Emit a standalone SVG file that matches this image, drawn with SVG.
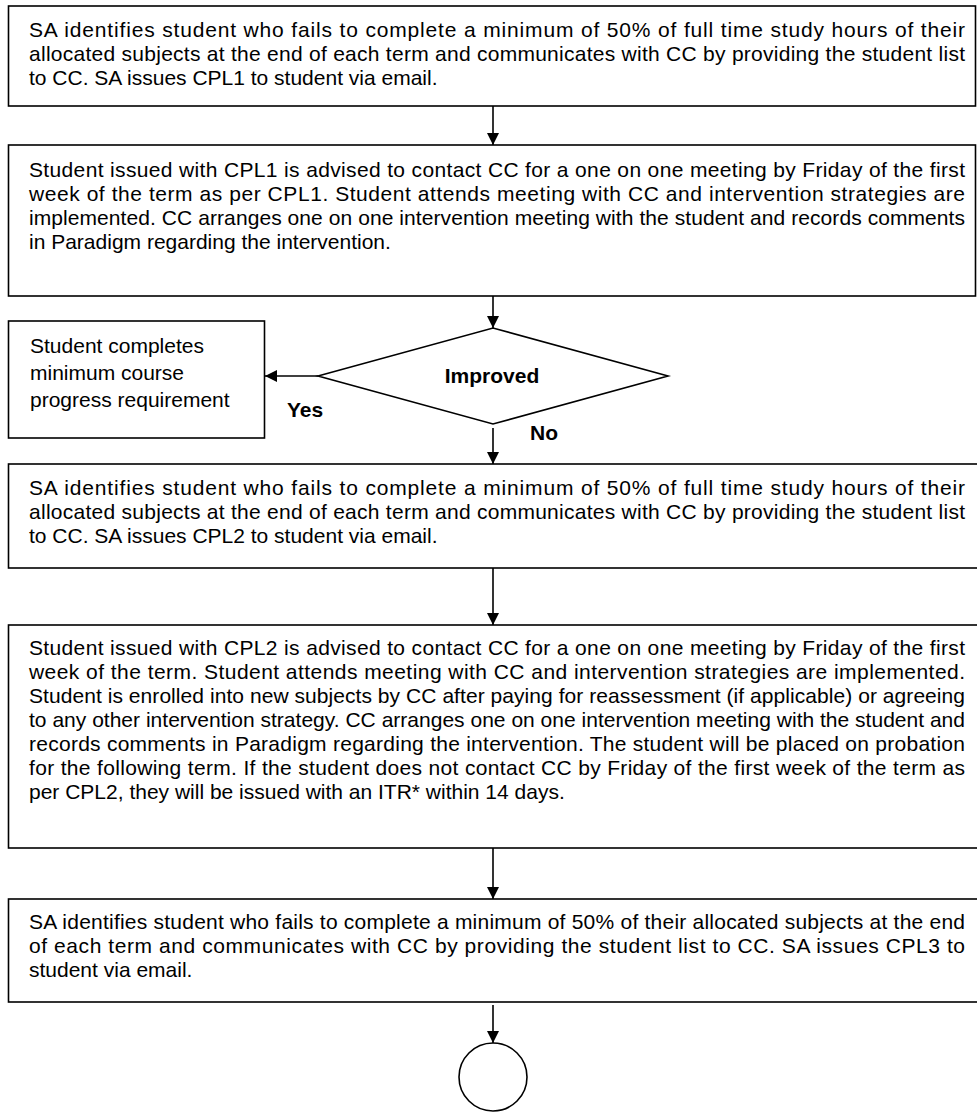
<svg xmlns="http://www.w3.org/2000/svg" width="977" height="1113" viewBox="0 0 977 1113">
<style>
.box{fill:#fff;stroke:#000;stroke-width:1.6}
.t{font-family:"Liberation Sans",Arial,sans-serif;font-size:21px;fill:#000}
.b{font-weight:bold}
.c{stroke:#000;stroke-width:1.6;fill:none}
.arr{marker-end:url(#ah)}
</style>
<defs>
<marker id="ah" markerUnits="userSpaceOnUse" markerWidth="12" markerHeight="12" viewBox="0 0 12 12" refX="12" refY="6" orient="auto">
<path d="M0,0 L12,6 L0,12 z" fill="#000"/>
</marker>
</defs>
<rect width="977" height="1113" fill="#fff"/>
<g id="connectors">
<line class="c arr" x1="493" y1="106" x2="493" y2="145"/>
<line class="c arr" x1="493" y1="296" x2="493" y2="328"/>
<line class="c arr" x1="318" y1="376" x2="265" y2="376"/>
<line class="c arr" x1="493" y1="428" x2="493" y2="464"/>
<line class="c arr" x1="493" y1="568" x2="493" y2="625"/>
<line class="c arr" x1="493" y1="848" x2="493" y2="899"/>
<line class="c arr" x1="493" y1="1005" x2="493" y2="1043"/>
</g>
<g id="n1">
<rect class="box" x="8.5" y="6" width="967" height="100"/>
<text class="t" x="29" y="37" textLength="936" lengthAdjust="spacing">SA identifies student who fails to complete a minimum of 50% of full time study hours of their</text>
<text class="t" x="29" y="61" textLength="936" lengthAdjust="spacing">allocated subjects at the end of each term and communicates with CC by providing the student list</text>
<text class="t" x="29" y="85">to CC. SA issues CPL1 to student via email.</text>
</g>
<g id="n2">
<rect class="box" x="8.5" y="145" width="967" height="151"/>
<text class="t" x="29" y="177" textLength="936" lengthAdjust="spacing">Student issued with CPL1 is advised to contact CC for a one on one meeting by Friday of the first</text>
<text class="t" x="29" y="201" textLength="936" lengthAdjust="spacing">week of the term as per CPL1. Student attends meeting with CC and intervention strategies are</text>
<text class="t" x="29" y="225" textLength="936" lengthAdjust="spacing">implemented. CC arranges one on one intervention meeting with the student and records comments</text>
<text class="t" x="29" y="249">in Paradigm regarding the intervention.</text>
</g>
<g id="decision">
<polygon class="box" points="318,376 493,328 668,376 493,424"/>
<text class="t b" x="492" y="383" text-anchor="middle">Improved</text>
</g>
<g id="yes-box">
<rect class="box" x="8.5" y="321" width="256" height="117"/>
<text class="t" x="30" y="353">Student completes</text>
<text class="t" x="30" y="380">minimum course</text>
<text class="t" x="30" y="407">progress requirement</text>
</g>
<g id="labels">
<text class="t b" x="287" y="417">Yes</text>
<text class="t b" x="530" y="440">No</text>
</g>
<g id="n3">
<rect class="box" x="8.5" y="464" width="972" height="104"/>
<text class="t" x="29" y="495" textLength="936" lengthAdjust="spacing">SA identifies student who fails to complete a minimum of 50% of full time study hours of their</text>
<text class="t" x="29" y="519" textLength="936" lengthAdjust="spacing">allocated subjects at the end of each term and communicates with CC by providing the student list</text>
<text class="t" x="29" y="543">to CC. SA issues CPL2 to student via email.</text>
</g>
<g id="n4">
<rect class="box" x="8.5" y="625" width="972" height="223"/>
<text class="t" x="29" y="655" textLength="936" lengthAdjust="spacing">Student issued with CPL2 is advised to contact CC for a one on one meeting by Friday of the first</text>
<text class="t" x="29" y="679" textLength="936" lengthAdjust="spacing">week of the term. Student attends meeting with CC and intervention strategies are implemented.</text>
<text class="t" x="29" y="703" textLength="936" lengthAdjust="spacing">Student is enrolled into new subjects by CC after paying for reassessment (if applicable) or agreeing</text>
<text class="t" x="29" y="727" textLength="936" lengthAdjust="spacing">to any other intervention strategy. CC arranges one on one intervention meeting with the student and</text>
<text class="t" x="29" y="751" textLength="936" lengthAdjust="spacing">records comments in Paradigm regarding the intervention. The student will be placed on probation</text>
<text class="t" x="29" y="775" textLength="936" lengthAdjust="spacing">for the following term. If the student does not contact CC by Friday of the first week of the term as</text>
<text class="t" x="29" y="799">per CPL2, they will be issued with an ITR* within 14 days.</text>
</g>
<g id="n5">
<rect class="box" x="8.5" y="899" width="972" height="103"/>
<text class="t" x="29" y="929" textLength="936" lengthAdjust="spacing">SA identifies student who fails to complete a minimum of 50% of their allocated subjects at the end</text>
<text class="t" x="29" y="953" textLength="936" lengthAdjust="spacing">of each term and communicates with CC by providing the student list to CC. SA issues CPL3 to</text>
<text class="t" x="29" y="977">student via email.</text>
</g>
<g id="end">
<circle class="box" cx="493" cy="1077" r="34"/>
</g>
</svg>
